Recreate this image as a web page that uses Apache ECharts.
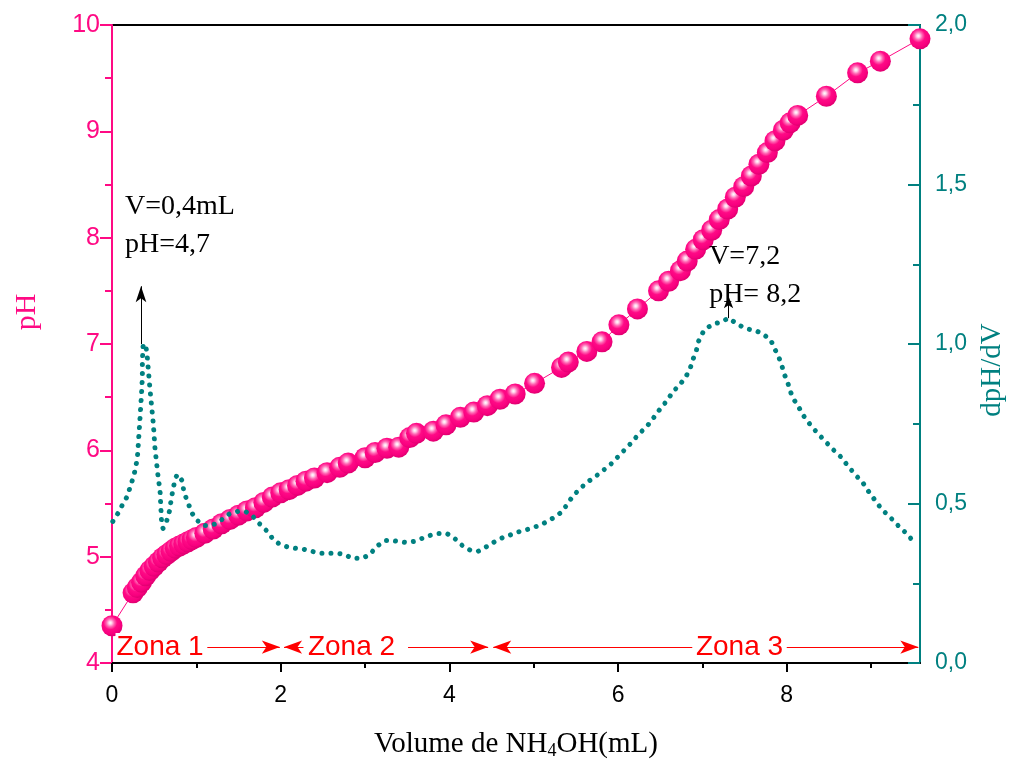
<!DOCTYPE html>
<html>
<head>
<meta charset="utf-8">
<script src="https://cdn.jsdelivr.net/npm/echarts@6/dist/echarts.min.js"></script>
<style>html,body{margin:0;padding:0;background:#fff}#c{width:1015px;height:765px}</style>
</head>
<body>
<div id="c"></div>
<script>
// ---- data ----
const volume = [0.00, 0.25, 0.30, 0.35, 0.40, 0.45, 0.50, 0.55, 0.60, 0.65, 0.70, 0.75, 0.80, 0.85, 0.90, 0.95, 1.00,
  1.10, 1.20, 1.30, 1.40, 1.50, 1.60, 1.70, 1.80, 1.90, 2.00, 2.10, 2.20, 2.30, 2.40, 2.55, 2.70, 2.80, 3.00, 3.12,
  3.26, 3.40, 3.53, 3.61, 3.81, 3.96, 4.13, 4.29, 4.45, 4.60, 4.78, 5.01, 5.33, 5.41, 5.63, 5.81, 6.01, 6.23, 6.48,
  6.60, 6.74, 6.82, 6.92, 7.01, 7.11, 7.20, 7.30, 7.39, 7.49, 7.58, 7.67, 7.77, 7.86, 7.96, 8.04, 8.13, 8.47, 8.84,
  9.11, 9.58];
const pH = [4.35, 4.66, 4.71, 4.76, 4.82, 4.87, 4.91, 4.95, 4.99, 5.02, 5.05, 5.08, 5.10, 5.12, 5.14, 5.16, 5.18,
  5.22, 5.26, 5.31, 5.35, 5.39, 5.43, 5.46, 5.51, 5.56, 5.60, 5.63, 5.67, 5.71, 5.74, 5.79, 5.84, 5.88, 5.93, 5.98,
  6.02, 6.03, 6.12, 6.16, 6.18, 6.24, 6.31, 6.36, 6.42, 6.48, 6.53, 6.63, 6.78, 6.83, 6.93, 7.02, 7.18, 7.33, 7.50,
  7.59, 7.69, 7.78, 7.89, 7.98, 8.07, 8.17, 8.27, 8.38, 8.48, 8.58, 8.69, 8.80, 8.91, 9.01, 9.08, 9.15, 9.33, 9.55,
  9.66, 9.87];

const derivVolume = [0.01, 0.07, 0.12, 0.18, 0.21, 0.24, 0.27, 0.30, 0.31, 0.32, 0.33, 0.34, 0.35, 0.36, 0.36, 0.37,
  0.40, 0.415, 0.45, 0.49, 0.51, 0.545, 0.57, 0.58, 0.59, 0.605, 0.65, 0.68, 0.71, 0.735, 0.76, 0.78, 0.83, 0.85,
  0.88, 0.95, 1.01, 1.08, 1.16, 1.25, 1.32, 1.40, 1.49, 1.58, 1.66, 1.72, 1.84, 1.91, 1.99, 2.09, 2.19, 2.28, 2.37,
  2.47, 2.67, 2.75, 2.85, 2.95, 3.05, 3.14, 3.24, 3.32, 3.39, 3.48, 3.58, 3.68, 3.77, 3.87, 3.97, 4.06, 4.15, 4.25,
  4.34, 4.45, 4.54, 4.64, 4.74, 4.84, 4.93, 5.03, 5.12, 5.22, 5.31, 5.39, 5.46, 5.54, 5.63, 5.73, 5.82, 5.91, 5.99,
  6.07, 6.16, 6.24, 6.35, 6.43, 6.50, 6.58, 6.65, 6.74, 6.81, 6.86, 6.89, 6.93, 6.95, 7.01, 7.07, 7.14, 7.22, 7.31,
  7.38, 7.46, 7.54, 7.64, 7.72, 7.81, 7.85, 7.90, 7.94, 7.97, 8.01, 8.04, 8.08, 8.14, 8.20, 8.28, 8.36, 8.46, 8.55,
  8.65, 8.73, 8.81, 8.90, 8.97, 9.05, 9.13, 9.23, 9.32, 9.42, 9.53];
const dpHdV = [0.444, 0.469, 0.494, 0.522, 0.547, 0.572, 0.600, 0.641, 0.678, 0.719, 0.759, 0.803, 0.844, 0.897, 0.947, 1.000,
  0.994, 0.969, 0.859, 0.750, 0.672, 0.588, 0.538, 0.484, 0.431, 0.422, 0.447, 0.475, 0.525, 0.559, 0.584, 0.591, 0.572, 0.541,
  0.516, 0.469, 0.447, 0.431, 0.431, 0.438, 0.453, 0.469, 0.475, 0.475, 0.463, 0.444, 0.413, 0.388, 0.372, 0.363, 0.359, 0.356, 0.350,
  0.344, 0.344, 0.341, 0.328, 0.328, 0.338, 0.366, 0.384, 0.384, 0.381, 0.378, 0.381, 0.391, 0.400, 0.406, 0.406, 0.391, 0.369, 0.353,
  0.350, 0.366, 0.381, 0.394, 0.403, 0.413, 0.419, 0.428, 0.438, 0.453, 0.469, 0.494, 0.522, 0.544, 0.566, 0.584, 0.603, 0.622, 0.644,
  0.666, 0.691, 0.716, 0.744, 0.772, 0.797, 0.822, 0.850, 0.875, 0.900, 0.928, 0.953, 0.981, 1.006, 1.038, 1.053, 1.063, 1.069, 1.081,
  1.069, 1.056, 1.047, 1.041, 1.031, 1.013, 0.988, 0.963, 0.934, 0.906, 0.881, 0.853, 0.828, 0.803, 0.775, 0.747, 0.722, 0.694, 0.669,
  0.644, 0.616, 0.591, 0.566, 0.538, 0.509, 0.481, 0.456, 0.431, 0.406, 0.372];

const xMajorTicks = [0, 2, 4, 6, 8];
const xMinorTicks = [1, 3, 5, 7, 9];
const xMax = 9.58;

// annotations (in data units)
const zoneLevel = 4.15;
const zoneLabels = [
  { text: 'Zona 1', x: 0.57 },
  { text: 'Zona 2', x: 2.84 },
  { text: 'Zona 3', x: 7.44 }
];
const zoneSegments = [
  [1.13, 1.99, 'none', 'arrow'],
  [2.04, 2.27, 'arrow', 'none'],
  [3.51, 4.46, 'none', 'arrow'],
  [4.52, 6.88, 'arrow', 'none'],
  [8.00, 9.56, 'none', 'arrow']
];
const peakNotes = [
  { text: 'V=0,4mL\npH=4,7', x: 0.154, y: 8.115 },
  { text: 'V=7,2\npH= 8,2', x: 7.08, y: 7.64 }
];
const peakArrows = [
  [0.344, 1.0, 1.181],
  [7.31, 1.081, 1.15]
];

const PINK = '#FF0A84';
const TEAL = '#008080';
const SANS = 'Liberation Sans, Arial, sans-serif';
const SERIF = 'Liberation Serif, Times New Roman, serif';

const chart = echarts.init(document.getElementById('c'), null, { renderer: 'canvas' });

const ball = new echarts.graphic.RadialGradient(0.42, 0.36, 0.62, [
  { offset: 0, color: '#ffffff' },
  { offset: 0.12, color: '#ffd2ea' },
  { offset: 0.3, color: '#ff68b4' },
  { offset: 0.52, color: '#ff0a86' },
  { offset: 0.85, color: '#f7007e' },
  { offset: 1, color: '#e20072' }
]);

const option = {
  animation: false,
  backgroundColor: '#fff',
  grid: { left: 112, top: 25, right: 95, bottom: 100, show: true, borderColor: '#000', borderWidth: 2, backgroundColor: 'transparent' },
  xAxis: [{
    type: 'value', min: 0, max: xMax, interval: 2, position: 'bottom',
    axisLine: { show: true, onZero: false, lineStyle: { color: '#000', width: 2 } },
    axisTick: { show: true, length: 9, lineStyle: { color: '#000', width: 2 }, customValues: xMajorTicks },
    axisLabel: { show: true, margin: 21, color: '#000', fontSize: 23, fontFamily: SANS, customValues: xMajorTicks },
    splitLine: { show: false },
    name: 'Volume de NH{sub|4}OH(mL)',
    nameLocation: 'middle', nameGap: 65,
    nameTextStyle: { color: '#000', fontSize: 29, fontFamily: SERIF,
      rich: { sub: { fontSize: 18, fontFamily: SERIF, color: '#000', verticalAlign: 'bottom', padding: [14, 0, 0, 0] } } }
  }, {
    type: 'value', min: 0, max: xMax, position: 'bottom', gridIndex: 0,
    axisLine: { show: false, onZero: false },
    axisTick: { show: true, length: 5, lineStyle: { color: '#000', width: 2 }, customValues: xMinorTicks },
    axisLabel: { show: false },
    splitLine: { show: false }
  }],
  yAxis: [{
    type: 'value', min: 4, max: 10, interval: 1, position: 'left',
    axisLine: { show: true, onZero: false, lineStyle: { color: PINK, width: 2 } },
    axisTick: { show: true, length: 12, lineStyle: { color: PINK, width: 2 } },
    minorTick: { show: true, splitNumber: 2, length: 7, lineStyle: { color: PINK, width: 2 } },
    axisLabel: { color: PINK, fontSize: 25, fontFamily: SANS, margin: 12 },
    splitLine: { show: false },
    name: 'pH', nameLocation: 'middle', nameRotate: 90, nameGap: 70,
    nameTextStyle: { color: PINK, fontSize: 30, fontFamily: SERIF, padding: [0, 0, 0, 64] }
  }, {
    type: 'value', min: 0, max: 2, interval: 0.5, position: 'right',
    axisLine: { show: true, onZero: false, lineStyle: { color: TEAL, width: 2 } },
    axisTick: { show: true, inside: true, length: 12, lineStyle: { color: TEAL, width: 2 } },
    minorTick: { show: true, splitNumber: 2, length: 7, lineStyle: { color: TEAL, width: 2 } },
    axisLabel: { color: TEAL, fontSize: 23, fontFamily: SANS, margin: 15,
      formatter: v => v.toFixed(1).replace('.', ',') },
    splitLine: { show: false },
    name: 'dpH/dV', nameLocation: 'middle', nameRotate: 90, nameGap: 50,
    nameTextStyle: { color: TEAL, fontSize: 29, fontFamily: SERIF, padding: [0, 52, 0, 0] }
  }],
  series: [{
    name: 'pH', type: 'line', xAxisIndex: 0, yAxisIndex: 0, z: 2,
    data: volume.map((v, i) => [v, pH[i]]),
    symbol: 'circle', symbolSize: 21, showSymbol: true,
    itemStyle: { color: ball },
    lineStyle: { color: PINK, width: 1 },
    markLine: {
      silent: true, animation: false,
      label: { show: false },
      lineStyle: { color: '#FF0000', width: 1, type: 'solid' },
      symbolSize: [10, 18],
      data: zoneSegments.map(s => [
        { coord: [s[0], zoneLevel], symbol: s[2] },
        { coord: [s[1], zoneLevel], symbol: s[3] }
      ])
    },
    markPoint: {
      silent: true, animation: false, symbol: 'circle', symbolSize: 0,
      data: zoneLabels.map(z => ({
        coord: [z.x, zoneLevel], value: z.text,
        label: { show: true, position: 'inside', formatter: z.text, color: '#FF0000', fontSize: 28, fontFamily: SANS,
          backgroundColor: '#fff', padding: [0, 1] }
      })).concat(peakNotes.map(n => ({
        coord: [n.x, n.y], value: n.text,
        label: { show: true, position: 'right', distance: 0, formatter: n.text, color: '#000', fontSize: 28,
          fontFamily: SERIF, lineHeight: 38, align: 'left' }
      })))
    }
  }, {
    name: 'dpH/dV', type: 'line', xAxisIndex: 0, yAxisIndex: 1, z: 3,
    data: derivVolume.map((v, i) => [v, dpHdV[i]]),
    showSymbol: false, symbol: 'none',
    lineStyle: { color: TEAL, width: 5, type: [0.01, 9], cap: 'round' },
    markLine: {
      silent: true, animation: false,
      label: { show: false },
      lineStyle: { color: '#000', width: 1, type: 'solid' },
      data: peakArrows.map((a, i) => [
        { coord: [a[0], a[1]], symbol: 'none' },
        { coord: [a[0], a[2]], symbol: 'arrow', symbolSize: i === 0 ? [8, 16] : [7, 12] }
      ])
    }
  }]
};
chart.setOption(option);
</script>
</body>
</html>
